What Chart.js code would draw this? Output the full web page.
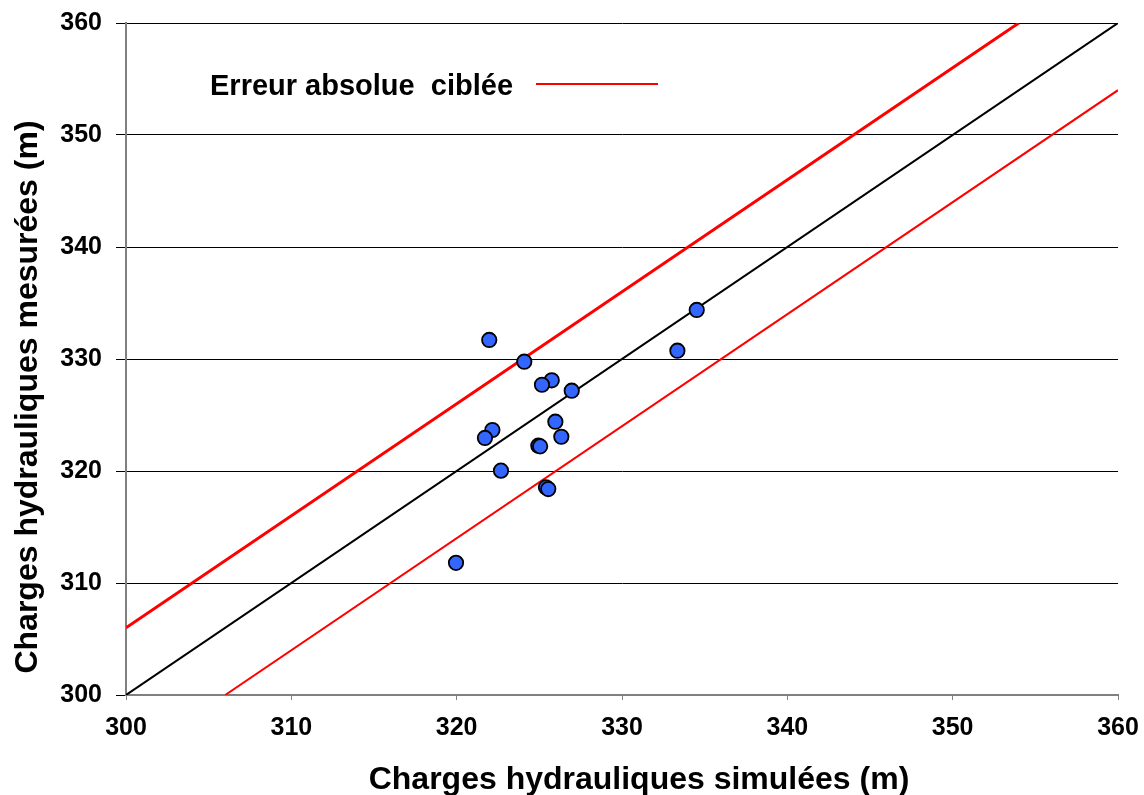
<!DOCTYPE html>
<html>
<head>
<meta charset="utf-8">
<script src="https://cdn.jsdelivr.net/npm/chart.js@4/dist/chart.umd.min.js"></script>
<style>
  html, body { margin: 0; padding: 0; background: #fff; }
  #wrap { position: relative; width: 1144px; height: 795px; }
</style>
</head>
<body>
<div id="wrap"><canvas id="c" width="1144" height="795"></canvas></div>
<script>
// Simulated (x) vs measured (y) hydraulic heads (m)
const simulated = [321.97, 324.09, 325.75, 325.16, 326.96, 325.97, 326.33, 322.16, 321.71, 324.94, 325.05, 322.68, 325.40, 325.54, 334.52, 333.35, 319.96];
const measured  = [331.70, 329.76, 328.10, 327.70, 327.17, 324.40, 323.06, 323.66, 322.95, 322.26, 322.20, 320.03, 318.54, 318.39, 334.38, 330.74, 311.80];

// Reference lines (endpoints)
const perfectX = [300, 360], perfectY = [300, 360];
const upperX = [300, 354],   upperY = [306, 360];
const lowerX = [306, 360],   lowerY = [300, 354];

const tickValues = [300, 310, 320, 330, 340, 350, 360];
const legendLabel = 'Erreur absolue  ciblée';
const xTitle = 'Charges hydrauliques simulées (m)';
const yTitle = 'Charges hydrauliques mesurées (m)';

const FONT = '"Liberation Sans", Arial, sans-serif';
const pts = (xs, ys) => xs.map((x, i) => ({x, y: ys[i]}));

const textPlugin = {
  id: 'textOverlay',
  afterDraw(chart) {
    const ctx = chart.ctx;
    ctx.save();
    ctx.fillStyle = '#000';
    // legend
    ctx.font = 'bold 29px ' + FONT;
    ctx.textBaseline = 'alphabetic';
    ctx.textAlign = 'left';
    ctx.fillText(legendLabel, 210, 95);
    ctx.strokeStyle = '#ff0000';
    ctx.lineWidth = 2;
    ctx.beginPath();
    ctx.moveTo(536, 84);
    ctx.lineTo(658, 84);
    ctx.stroke();
    // axis titles
    ctx.font = 'bold 32px ' + FONT;
    ctx.textAlign = 'center';
    ctx.fillText(xTitle, 639, 789);
    ctx.translate(37, 397);
    ctx.rotate(-Math.PI / 2);
    ctx.fillText(yTitle, 0, 0);
    ctx.restore();
  }
};

function zeroPad(s) { s.paddingTop = 0; s.paddingBottom = 0; s.paddingLeft = 0; s.paddingRight = 0; }

new Chart(document.getElementById('c'), {
  type: 'scatter',
  data: {
    datasets: [
      { label: 'Points', data: pts(simulated, measured), backgroundColor: '#3366ff', borderColor: '#000', borderWidth: 1.8, pointRadius: 7.2, order: 0 },
      { label: 'Parfait', type: 'line', data: pts(perfectX, perfectY), borderColor: '#000', borderWidth: 2, pointRadius: 0, fill: false, order: 1 },
      { label: 'Sup', type: 'line', data: pts(upperX, upperY), borderColor: '#ff0000', borderWidth: 3, pointRadius: 0, fill: false, order: 1 },
      { label: 'Inf', type: 'line', data: pts(lowerX, lowerY), borderColor: '#ff0000', borderWidth: 2, pointRadius: 0, fill: false, order: 1 }
    ]
  },
  options: {
    responsive: false,
    animation: false,
    layout: { padding: { top: 23, right: 26, left: 0, bottom: 0 } },
    plugins: { legend: { display: false }, tooltip: { enabled: false } },
    scales: {
      x: {
        type: 'linear', min: 300, max: 360,
        afterBuildTicks(s) { s.ticks = tickValues.map(v => ({value: v})); },
        afterFit(s) { s.height = 100; zeroPad(s); },
        grid: { drawOnChartArea: false, drawTicks: true, tickLength: 5, color: '#808080', lineWidth: 1 },
        border: { display: true, color: '#808080', width: 2 },
        ticks: { color: '#000', padding: 13, font: { family: FONT, size: 25, weight: 'bold' }, maxRotation: 0 },
        title: { display: false }
      },
      y: {
        type: 'linear', min: 300, max: 360,
        afterBuildTicks(s) { s.ticks = tickValues.map(v => ({value: v})); },
        afterFit(s) { s.width = 126; zeroPad(s); },
        grid: { drawOnChartArea: true, drawTicks: true, tickLength: 10, color: '#000', lineWidth: 1 },
        border: { display: true, color: '#808080', width: 2 },
        ticks: { color: '#000', padding: 14, font: { family: FONT, size: 25, weight: 'bold' } },
        title: { display: false }
      }
    }
  },
  plugins: [textPlugin]
});
</script>
</body>
</html>
